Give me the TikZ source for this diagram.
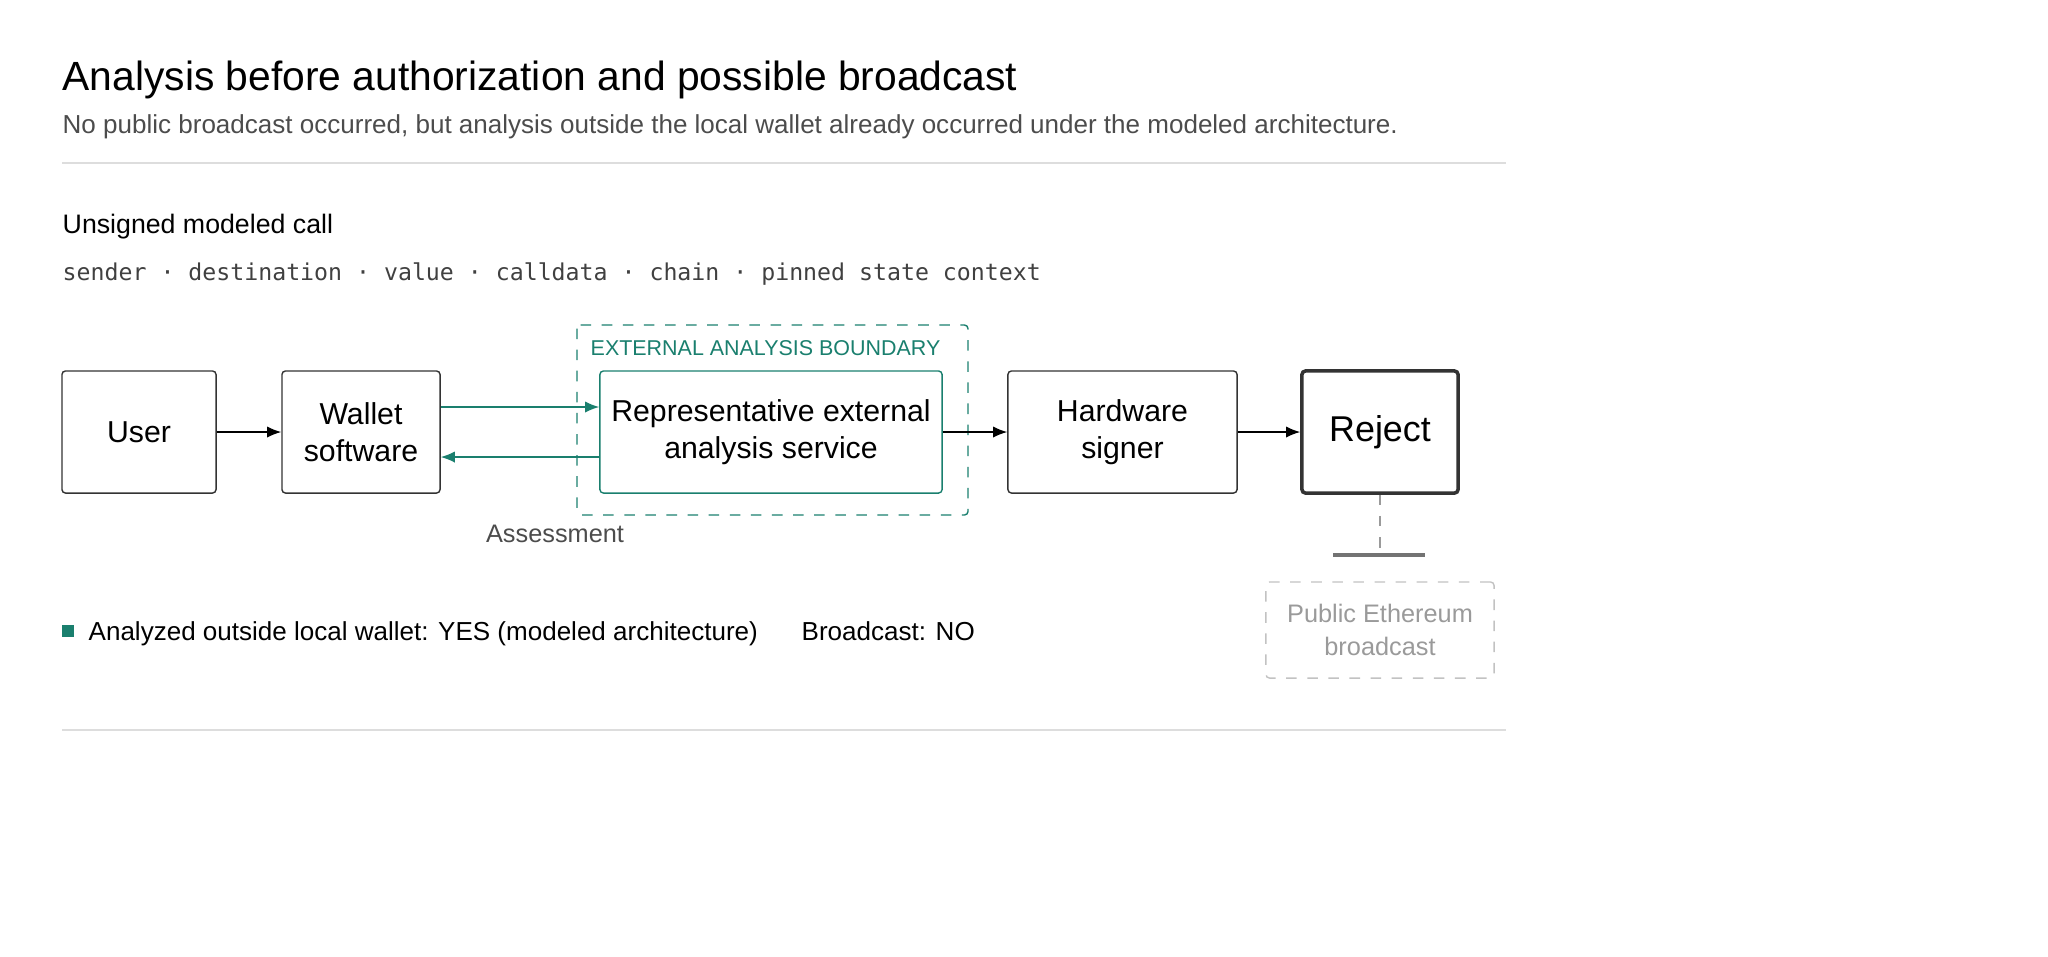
\documentclass[tikz,border=0pt]{standalone}
\usepackage{fontspec}
\setmainfont{Liberation Sans}
\setmonofont{DejaVu Sans Mono}
\usetikzlibrary{arrows.meta}
\definecolor{teal}{HTML}{1A7F6E}
\definecolor{rule}{HTML}{DDDDDD}
\definecolor{muted}{HTML}{9A9A9A}
\tikzset{
  box/.style={draw=black!80, rounded corners=1pt, line width=0.4pt, align=center,
    font=\fontsize{8.6}{10.4}\selectfont, inner sep=0pt, minimum height=1.22cm},
  flow/.style={-{Latex[length=4pt,width=3.2pt]}, line width=0.4pt},
}
\begin{document}
\begin{tikzpicture}[x=0.01cm,y=-0.01cm]
        \useasboundingbox (0,0) rectangle (2048,956);
        % heading
        \node[anchor=base west, inner sep=0, font=\fontsize{11.6}{13}\selectfont] (title) at (62,90) {Analysis before authorization and possible broadcast};
        \node[anchor=base west, inner sep=0, text=black!70, font=\fontsize{7.4}{9}\selectfont] (sub) at (62,133) {No public broadcast occurred, but analysis outside the local wallet already occurred under the modeled architecture.};
        \draw[rule, line width=0.5pt] (62,163) -- (1506,163);
        \node[anchor=base west, inner sep=0, font=\fontsize{7.6}{9}\selectfont] (call) at (62,233) {Unsigned modeled call};
        \node[anchor=base west, inner sep=0, text=black!75, font=\ttfamily\fontsize{6.6}{8}\selectfont] (fields) at (62,280) {sender · destination · value · calldata · chain · pinned state context};
        % boundary
        \draw[teal, dashed, line width=0.4pt, rounded corners=1pt] (577,325) rectangle (968,515);
        \node[anchor=base west, inner sep=0, text=teal, font=\fontsize{6.1}{8}\selectfont] (bnd) at (590,355) {EXTERNAL ANALYSIS BOUNDARY};
        % nodes
        \node[box, minimum width=1.54cm] (user) at (139,432) {User};
        \node[box, minimum width=1.58cm] (wallet) at (361,432) {Wallet\\software};
        \node[box, draw=teal, minimum width=3.42cm] (rep) at (771,432) {Representative external\\analysis service};
        \node[box, minimum width=2.29cm] (hw) at (1122.5,432) {Hardware\\signer};
        \node[box, line width=1pt, minimum width=1.56cm, font=\fontsize{10.2}{12}\selectfont] (reject) at (1380,432) {Reject};
        \node[box, draw=muted!60, dashed, text=muted, minimum width=2.28cm, minimum height=0.96cm, font=\fontsize{7.2}{9.6}\selectfont] (pub) at (1380,630) {Public Ethereum\\broadcast};
        % connectors
        \draw[flow] (user) -- (wallet);
        \draw[flow, teal] ([yshift=0.25cm]wallet.east) -- ([yshift=0.25cm]rep.west);
        \draw[flow, teal] ([yshift=-0.25cm]rep.west) -- ([yshift=-0.25cm]wallet.east);
        \draw[flow] (rep) -- (hw);
        \draw[flow] (hw) -- (reject);
        \node[anchor=base, inner sep=0, text=black!70, font=\fontsize{7.2}{9}\selectfont] (assess) at (555,542) {Assessment};
        \coordinate (stop) at (1380,555);
        \draw[muted, dashed, line width=0.4pt] (reject) -- (stop);
        \draw[black!55, line width=1.3pt] (1333,555) -- (1425,555);
        % legend
        \fill[teal] (62,625) rectangle (74,637);
        \node[anchor=base west, inner sep=0, font=\fontsize{7.4}{9}\selectfont] (yes) at (88,640) {Analyzed outside local wallet: YES (modeled architecture)};
        \node[anchor=base west, inner sep=0, font=\fontsize{7.4}{9}\selectfont] (no) at (801,640) {Broadcast: NO};
        \draw[rule, line width=0.5pt] (62,730) -- (1506,730);
\end{tikzpicture}
\end{document}
